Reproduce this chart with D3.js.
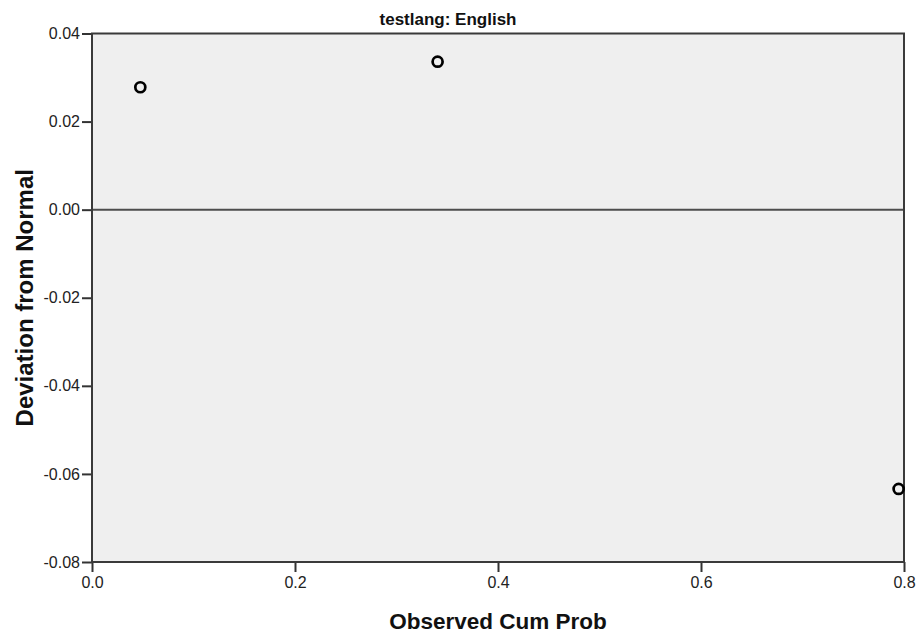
<!DOCTYPE html>
<html>
<head>
	<meta charset="utf-8">
	<script type="text/javascript" src="https://cdn.jsdelivr.net/npm/d3@7"></script>
	<title>Detrended Normal P-P</title>
	<style>
		body { margin: 0; background: #fff; }
		text { font-family: "Liberation Sans", Arial, sans-serif; }
	</style>
</head>
<body>
<script type="text/javascript">

	/*------ data ------*/

	var obsCumProb = [0.0476, 0.3405, 0.7947];
	var deviation = [0.0278, 0.0336, -0.0634];
	var xTicks = [0.0, 0.2, 0.4, 0.6, 0.8];
	var yTicks = [0.04, 0.02, 0.00, -0.02, -0.04, -0.06, -0.08];
	var titleText = 'testlang: English';
	var xLabel = 'Observed Cum Prob';
	var yLabel = 'Deviation from Normal';

	/*------ layout ------*/

	var svgWidth = 920;
	var svgHeight = 637;
	var plotLeft = 92, plotRight = 904, plotTop = 33.5, plotBottom = 562;

	var svg = d3.select('body')
			.append('svg')
			.attr('width', svgWidth)
			.attr('height', svgHeight);

	var xScale = d3.scaleLinear()
			.domain([0, 0.8])
			.range([plotLeft, plotRight]);

	var yScale = d3.scaleLinear()
			.domain([-0.08, 0.04])
			.range([plotBottom, plotTop]);

	// plain hyphen for negatives, like the original
	function fmt(spec) {
		var f = d3.format(spec);
		return function (d) { return f(d).replace('\u2212', '-'); };
	}

	// plot background
	svg.append('rect')
		.attr('x', plotLeft)
		.attr('y', plotTop)
		.attr('width', plotRight - plotLeft)
		.attr('height', plotBottom - plotTop)
		.attr('fill', '#efefef');

	// reference line at zero
	svg.append('line')
		.attr('x1', plotLeft)
		.attr('x2', plotRight)
		.attr('y1', yScale(0))
		.attr('y2', yScale(0))
		.attr('stroke', '#4d4d4d')
		.attr('stroke-width', 2);

	// axes
	var xAxis = svg.append('g')
		.attr('transform', 'translate(0,' + plotBottom + ')')
		.call(d3.axisBottom(xScale)
			.tickValues(xTicks)
			.tickFormat(fmt('.1f'))
			.tickSize(10)
			.tickPadding(5));

	var yAxis = svg.append('g')
		.attr('transform', 'translate(' + plotLeft + ',0)')
		.call(d3.axisLeft(yScale)
			.tickValues(yTicks)
			.tickFormat(fmt('.2f'))
			.tickSize(10)
			.tickPadding(2));

	[xAxis, yAxis].forEach(function (ax) {
		ax.select('.domain').remove();
		ax.selectAll('line').attr('stroke', '#333').attr('stroke-width', 2);
		ax.selectAll('text')
			.attr('fill', '#222')
			.style('font-size', '16px')
			.style('font-family', '"Liberation Sans", Arial, sans-serif');
	});

	// frame
	svg.append('rect')
		.attr('x', plotLeft)
		.attr('y', plotTop)
		.attr('width', plotRight - plotLeft)
		.attr('height', plotBottom - plotTop)
		.attr('fill', 'none')
		.attr('stroke', '#3a3a3a')
		.attr('stroke-width', 2);

	// points
	var points = d3.range(obsCumProb.length).map(function (i) {
		return { x: obsCumProb[i], y: deviation[i] };
	});

	svg.selectAll('circle.pt')
		.data(points)
		.enter()
		.append('circle')
		.attr('class', 'pt')
		.attr('cx', function (d) { return xScale(d.x); })
		.attr('cy', function (d) { return yScale(d.y); })
		.attr('r', 5)
		.attr('fill', 'none')
		.attr('stroke', '#000')
		.attr('stroke-width', 2.7);

	// titles
	svg.append('text')
		.attr('x', 448)
		.attr('y', 25)
		.attr('text-anchor', 'middle')
		.attr('font-weight', 'bold')
		.attr('font-size', 17)
		.attr('fill', '#111')
		.text(titleText);

	svg.append('text')
		.attr('x', (plotLeft + plotRight) / 2)
		.attr('y', 629)
		.attr('text-anchor', 'middle')
		.attr('font-weight', 'bold')
		.attr('font-size', 22.5)
		.attr('fill', '#111')
		.text(xLabel);

	svg.append('text')
		.attr('transform', 'translate(33,' + ((plotTop + plotBottom) / 2) + ') rotate(-90)')
		.attr('text-anchor', 'middle')
		.attr('font-weight', 'bold')
		.attr('font-size', 24)
		.attr('fill', '#111')
		.text(yLabel);

</script>
</body>
</html>
